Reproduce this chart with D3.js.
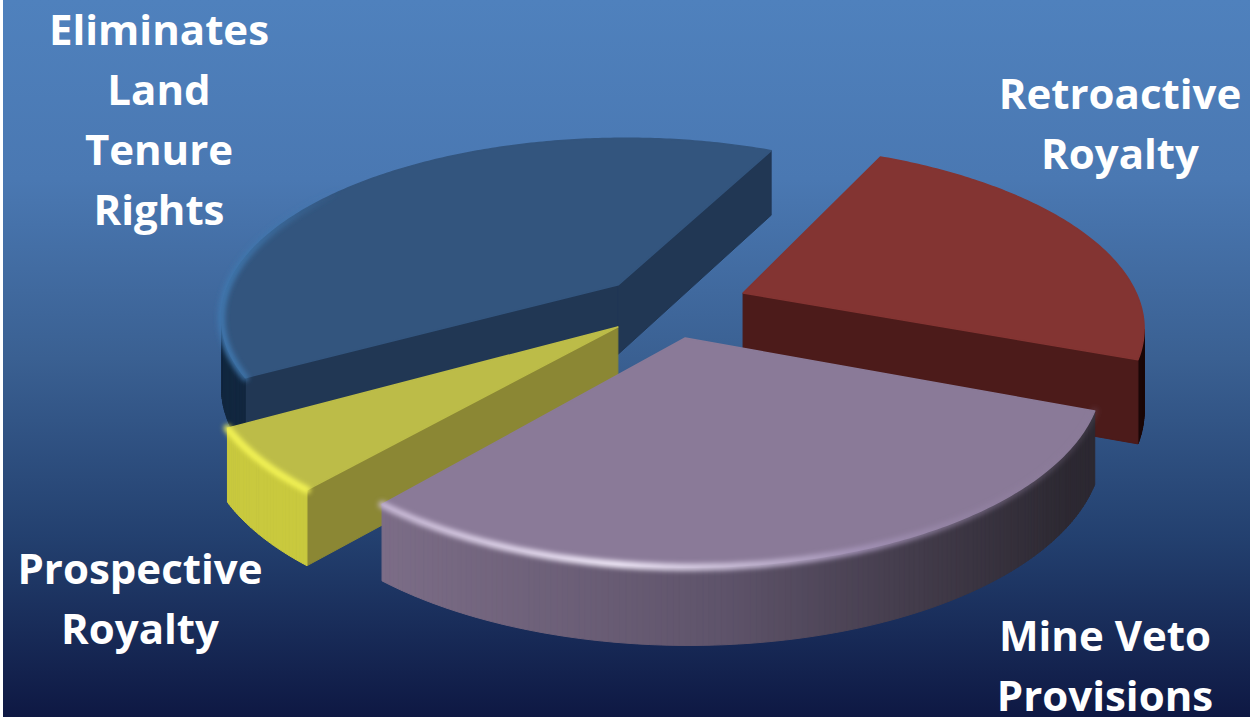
<!DOCTYPE html>
<html><head><meta charset="utf-8">
<script src="https://cdnjs.cloudflare.com/ajax/libs/d3/7.8.5/d3.min.js"></script>
<style>html,body{margin:0;padding:0;background:#fff;overflow:hidden}svg{display:block}text{font-family:"Open Sans",Lato,sans-serif;font-weight:700;fill:#fff;text-anchor:middle}</style>
</head><body><svg id="c" width="1250" height="717"></svg>
<script>
const categories = ["Retroactive Royalty","Mine Veto Provisions","Prospective Royalty","Eliminates Land Tenure Rights"];
const shares = [23.8,30.3,5.5,40.4];
const topColors = ["#833432","#8a7a98","#bcbc48","#33557e"];
const cutColors = ["#4c1b1a","#6a5e72","#8b8734","#213754"];
const wallLeft = ["#4c1b1a","#7d6e88","#c9c93e","#12273f"];
const wallMid = ["#4c1b1a","#5f546b","#b0ae3a","#1c3450"];
const wallRight = ["#1c0808","#2d2932","#93903a","#213754"];
const rimStops = [
  [["#7a302e",0],["#7a302e",0]],
  [["#cdbedb",0.9],["#f3ecfb",1],["#a695ba",0.9],["#8a7a98",0.2]],
  [["#f4f454",1],["#f4f454",1]],
  [["#3f77ae",1],["#3f77ae",0]]
];
const rimRange = [[0,1],[380,620,860,1090],[220,310],[225,340]];
const explodeBy = [0.2,0.18,0.18,0.18];
const nudgeX = [0,-3,4,0];
const depthBy = [82,70,70,70];
const labelLines = [["Retroactive","Royalty"],["Mine Veto","Provisions"],["Prospective","Royalty"],["Eliminates","Land","Tenure","Rights"]];
const labelX = [1120,1105,140,159];
const labelY = [109,651,584,45];
const drawOrder = [3,0,2,1];

const W=1250,H=717,cx=670,cy=306,R=398,Rk=178,persp=0.17;
const svg=d3.select("#c"),defs=svg.append("defs");
const bg=defs.append("linearGradient").attr("id","bg").attr("x1",0).attr("x2",0).attr("y1",0).attr("y2",1);
[[0,"#4f81bd"],[0.25,"#4a78b2"],[0.5,"#3a6092"],[0.75,"#23406f"],[1,"#0e1843"]].forEach(s=>bg.append("stop").attr("offset",s[0]).attr("stop-color",s[1]));
defs.append("filter").attr("id","blur").attr("x","-20%").attr("y","-20%").attr("width","140%").attr("height","140%").append("feGaussianBlur").attr("stdDeviation",2.4);
svg.append("rect").attr("width",W).attr("height",H).attr("fill","#fff");
svg.append("rect").attr("x",3).attr("width",W-3).attr("height",H).attr("fill","url(#bg)");

const sx=d3.scaleLinear().domain([-1,1]).range([cx-R,cx+R]);
const sy=d3.scaleLinear().domain([-1,1]).range([cy-Rk,cy+Rk]);
const project=(X,Y,z)=>{const s=1/(1-persp*Y);return [sx(X*s),sy(Y*s)+z*Math.sqrt(s)];};
const line=d3.line().curve(d3.curveLinearClosed);
const open=d3.line();
const pie=d3.pie().sort(null).startAngle(25.5*Math.PI/180).endAngle((25.5+360)*Math.PI/180);
const arcs=pie(shares);
const ground=arcs.map((a,i)=>{
  const mid=(a.startAngle+a.endAngle)/2-Math.PI/2;
  const ox=explodeBy[i]*Math.cos(mid),oy=explodeBy[i]*Math.sin(mid);
  const n=Math.max(2,Math.ceil((a.endAngle-a.startAngle)/0.012));
  const rim=d3.range(n+1).map(k=>{const t=a.startAngle+(a.endAngle-a.startAngle)*k/n-Math.PI/2;return [ox+Math.cos(t),oy+Math.sin(t)];});
  return {apex:[ox,oy],rim};
});
const g=svg.append("g");
drawOrder.forEach(i=>{
  const G=ground[i],pts=[G.apex,...G.rim],depth=depthBy[i];
  const gs=g.append("g").attr("transform",`translate(${nudgeX[i]},0)`);
  const xc=d3.scaleLinear().domain([cx-300,cx+50,cx+400]).range([wallLeft[i],wallMid[i],wallRight[i]]).clamp(true);
  pts.forEach((p,k)=>{
    const q=pts[(k+1)%pts.length];
    const quad=[project(p[0],p[1],0),project(q[0],q[1],0),project(q[0],q[1],depth),project(p[0],p[1],depth)];
    if(d3.polygonArea(quad)<=0) return;
    const isCut=k===0||k===pts.length-1;
    const col=isCut?cutColors[i]:xc((quad[0][0]+quad[1][0])/2);
    gs.append("path").attr("d",line(quad)).attr("fill",col).attr("stroke",col).attr("stroke-width",1).attr("stroke-linejoin","round");
  });
  gs.append("path").attr("d",line(pts.map(p=>project(p[0],p[1],0)))).attr("fill",topColors[i]).attr("stroke",topColors[i]).attr("stroke-width",1.5).attr("stroke-linejoin","round");
  const gid="rim"+i, rr=rimRange[i], st=rimStops[i];
  if(st[0][1]>0||st[st.length-1][1]>0){
    const lg=defs.append("linearGradient").attr("id",gid).attr("gradientUnits","userSpaceOnUse").attr("x1",rr[0]).attr("x2",rr[rr.length-1]).attr("y1",0).attr("y2",0);
    st.forEach((s,k)=>lg.append("stop").attr("offset",(rr[k]-rr[0])/(rr[rr.length-1]-rr[0])).attr("stop-color",s[0]).attr("stop-opacity",s[1]));
    const front=G.rim.filter(p=>p[1]>0.1||i===3);
    gs.append("path").attr("d",open(front.map(p=>project(p[0],p[1],0)))).attr("fill","none").attr("stroke",`url(#${gid})`).attr("stroke-width",7).attr("stroke-linecap","round").attr("filter","url(#blur)");
  }
});
labelLines.forEach((ls,i)=>{
  ls.forEach((t,j)=>svg.append("text").attr("x",labelX[i]).attr("y",labelY[i]+j*60).attr("font-size",42).text(t));
});
</script></body></html>
